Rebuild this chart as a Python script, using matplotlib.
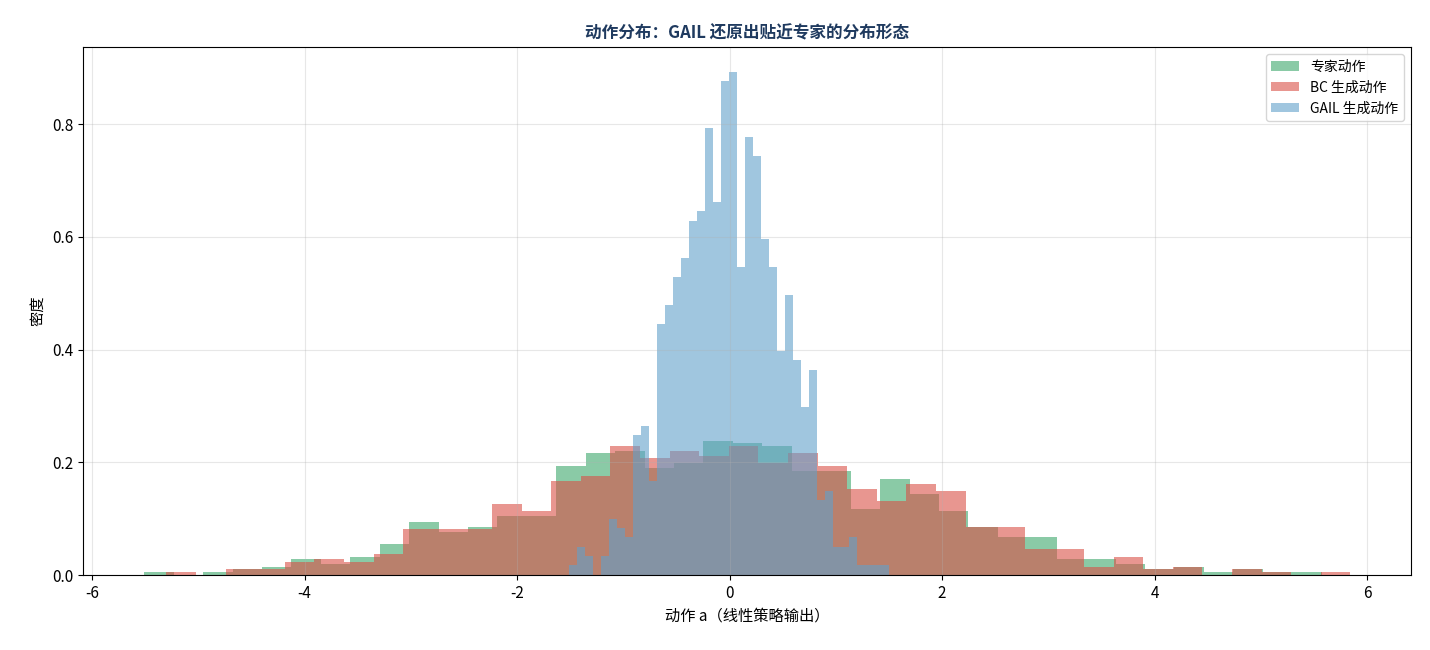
import numpy as np
import matplotlib
matplotlib.use("Agg")
import matplotlib.pyplot as plt

plt.rcParams['font.family'] = ['Noto Sans CJK SC', 'DejaVu Sans']
plt.rcParams['axes.unicode_minus'] = False

# Expert actions: 40 bins
expert_range = (-5.508, 5.572)
expert_density = [0.0053, 0, 0.0053, 0.0106, 0.0142, 0.0284, 0.0195, 0.032, 0.055, 0.094,
                  0.076, 0.0846, 0.1047, 0.1047, 0.193, 0.216, 0.22, 0.19, 0.198, 0.238, 0.234,
                  0.229, 0.1845, 0.1845, 0.117, 0.170, 0.1437, 0.1135, 0.085, 0.067, 0.067,
                  0.0284, 0.0284, 0.0195, 0.0106, 0.0142, 0.0053, 0.0106, 0.0053, 0.0053]
# BC actions: 40 bins
bc_range = (-5.300, 5.844)
bc_density = [0.0053, 0, 0.0106, 0.0106, 0.023, 0.0284, 0.023, 0.037, 0.0816, 0.0816,
              0.0816, 0.126, 0.1135, 0.1667, 0.1756, 0.229, 0.2075, 0.22, 0.211, 0.229,
              0.199, 0.216, 0.193, 0.1525, 0.131, 0.161, 0.149, 0.085, 0.085, 0.046,
              0.046, 0.0142, 0.032, 0.0106, 0.0142, 0, 0.0106, 0.0053, 0, 0.0053]
# GAIL actions: 40 bins
gail_range = (-1.511, 1.501)
gail_density = [0.018, 0.049, 0.034, 0, 0.034, 0.099, 0.083, 0.068, 0.248, 0.264,
                0.167, 0.446, 0.479, 0.529, 0.562, 0.628, 0.646, 0.793, 0.662, 0.876,
                0.892, 0.546, 0.777, 0.743, 0.596, 0.546, 0.397, 0.497, 0.381, 0.298,
                0.364, 0.133, 0.149, 0.05, 0.05, 0.067, 0.018, 0.018, 0.018, 0.018]

labels = ['专家动作', 'BC 生成动作', 'GAIL 生成动作']
colors = ['#3ca86b', '#d95046', '#61a0cb']

fig, ax = plt.subplots(figsize=(14.3, 6.5), dpi=100)
fig.subplots_adjust(left=83/1430, right=1411/1430, top=1-47/650, bottom=1-575/650)

for rng, dens, lab, col in [(expert_range, expert_density, labels[0], colors[0]),
                            (bc_range, bc_density, labels[1], colors[1]),
                            (gail_range, gail_density, labels[2], colors[2])]:
    edges = np.linspace(rng[0], rng[1], len(dens) + 1)
    ax.hist(edges[:-1], bins=edges, weights=dens, color=col, alpha=0.6, label=lab)

ax.set_xlim(-6.085, 6.414)
ax.set_ylim(0, 0.9366)
ax.set_xticks([-6, -4, -2, 0, 2, 4, 6])
ax.set_yticks([0.0, 0.2, 0.4, 0.6, 0.8])
ax.grid(True, alpha=0.3)
ax.tick_params(labelsize=11)
ax.set_xlabel('动作 a（线性策略输出）', fontsize=11)
ax.set_ylabel('密度', fontsize=11)
ax.set_title('动作分布：GAIL 还原出贴近专家的分布形态', fontsize=12, fontweight='bold', color='#1f3a5f')
ax.legend(loc='upper right', fontsize=10)

fig.savefig('out.png', dpi=100)
